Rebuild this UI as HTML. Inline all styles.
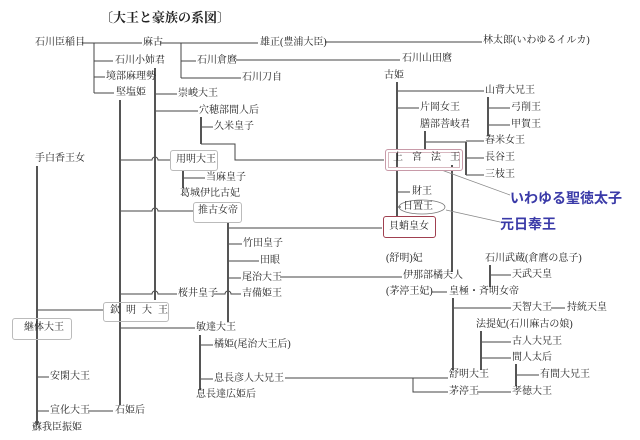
<!DOCTYPE html>
<html><head><meta charset="utf-8"><style>
html,body{margin:0;padding:0;background:#fff;}
#c{position:relative;width:640px;height:440px;overflow:hidden;background:#fff;font-family:"Liberation Serif","Noto Serif CJK SC",serif;color:#222;}
.t{position:absolute;font-size:10px;line-height:12px;white-space:nowrap;}
svg{position:absolute;left:0;top:0;}
.b{position:absolute;border:1px solid #bbb;border-radius:3px;}
</style></head><body><div id="c">
<svg width="640" height="440" fill="none">
<g stroke="#444" stroke-width="1">
<path d="M82 43H142M94 43V93M94 61H113M94 77H105M94 93H114"/>
<path d="M160 43H258M181 43V78M181 61H196M181 78H241"/>
<path d="M325 42H482M236 60H400"/>
<path d="M155 94H177M155 111H198"/>
<path d="M120 160H152a3 3 0 0 1 6 0H170M120 211H152a3 3 0 0 1 6 0H193M120 294H152a3 3 0 0 1 6 0H177M120 328H195"/>
<path d="M201 127H213M201 144H235V160H384"/>
<path d="M183 178H205"/>
<path d="M228 228H382M228 244H242M228 261H259M228 278H241M214 294H225a3 3 0 0 1 6 0H241"/>
<path d="M280 277H402"/>
<path d="M200 345H213M200 379H213M285 378H448"/>
<path d="M37 310H103M37 377H49M37 411H49M88 411H113"/>
<path d="M397 91H484M397 108H419M425 142H466M466 141H484M466 158H484M466 175H484"/>
<path d="M488 108H510M488 125H510"/>
<path d="M397 192H410M397 207H401"/>
<path d="M453 308H511M551 308H565M490 275H511M481 342H511M481 358H511M516 375H539"/>
<path d="M413 378V392H448M477 392H511M432 292H447"/>
</g>
<g stroke="#555" stroke-width="2">
<path d="M155 68V300M120 100V405M201 117V144M183 170V188M228 222V322M200 335V390M37 166V425M397 82V216M425 131V152M466 142V175M488 97V136M452 165V272M453 298V370M490 265V287M481 331V370M516 364V386"/>
</g>
<g stroke="#888" stroke-width="0.8">
<path d="M436 168L510 195M446 210L500 222"/>
</g>
<ellipse cx="422" cy="207" rx="23" ry="7" stroke="#777" stroke-width="0.8"/>
</svg>
<div class="b" style="left:170px;top:150px;width:46px;height:19px"></div>
<div class="b" style="left:193px;top:202px;width:47px;height:19px"></div>
<div class="b" style="left:103px;top:302px;width:64px;height:18px"></div>
<div class="b" style="left:12px;top:318px;width:58px;height:20px"></div>
<div class="b" style="left:385px;top:149px;width:76px;height:20px;border:1px solid #c89aa8;box-shadow:inset 0 0 0 2px #fff,inset 0 0 0 3px #d8b8c0"></div>
<div class="b" style="left:383px;top:216px;width:51px;height:20px;border:1px solid #a04050"></div>
<div class="t" style="left:100px;top:10px;font-size:13px;line-height:15px;font-weight:bold">〔大王と豪族の系図〕</div>
<div class="t" style="left:35px;top:37px">石川臣稲目</div>
<div class="t" style="left:143px;top:37px">麻古</div>
<div class="t" style="left:260px;top:37px">雄正(豊浦大臣)</div>
<div class="t" style="left:483px;top:35px">林太郎(いわゆるイルカ)</div>
<div class="t" style="left:115px;top:55px">石川小姉君</div>
<div class="t" style="left:197px;top:55px">石川倉麿</div>
<div class="t" style="left:402px;top:53px">石川山田麿</div>
<div class="t" style="left:106px;top:71px">境部麻理勢</div>
<div class="t" style="left:242px;top:72px">石川刀自</div>
<div class="t" style="left:116px;top:87px">堅塩姫</div>
<div class="t" style="left:178px;top:88px">崇峻大王</div>
<div class="t" style="left:384px;top:70px">古姫</div>
<div class="t" style="left:199px;top:105px">穴穂部間人后</div>
<div class="t" style="left:214px;top:121px">久米皇子</div>
<div class="t" style="left:485px;top:85px">山背大兄王</div>
<div class="t" style="left:420px;top:102px">片岡女王</div>
<div class="t" style="left:511px;top:102px">弓削王</div>
<div class="t" style="left:420px;top:119px">膳部菩岐君</div>
<div class="t" style="left:511px;top:119px">甲賀王</div>
<div class="t" style="left:485px;top:135px">舂米女王</div>
<div class="t" style="left:35px;top:153px">手白香王女</div>
<div class="t" style="left:176px;top:154px">用明大王</div>
<div class="t" style="left:393px;top:152px;letter-spacing:9px">上宮法王</div>
<div class="t" style="left:485px;top:152px">長谷王</div>
<div class="t" style="left:206px;top:172px">当麻皇子</div>
<div class="t" style="left:485px;top:169px">三枝王</div>
<div class="t" style="left:180px;top:188px">葛城伊比古妃</div>
<div class="t" style="left:412px;top:186px">財王</div>
<div class="t" style="left:510px;top:190px;font-size:14px;line-height:17px;font-weight:bold;color:#3a3aa8;font-family:'Liberation Sans','Noto Sans CJK JP',sans-serif">いわゆる聖徳太子</div>
<div class="t" style="left:403px;top:201px">日置王</div>
<div class="t" style="left:500px;top:216px;font-size:14px;line-height:17px;font-weight:bold;color:#3a3aa8;font-family:'Liberation Sans','Noto Sans CJK JP',sans-serif">元日奉王</div>
<div class="t" style="left:198px;top:205px">推古女帝</div>
<div class="t" style="left:389px;top:221px">貝蛸皇女</div>
<div class="t" style="left:243px;top:238px">竹田皇子</div>
<div class="t" style="left:260px;top:255px">田眼</div>
<div class="t" style="left:242px;top:272px">尾治大王</div>
<div class="t" style="left:242px;top:288px">吉備姫王</div>
<div class="t" style="left:178px;top:288px">桜井皇子</div>
<div class="t" style="left:386px;top:253px">(舒明)妃</div>
<div class="t" style="left:403px;top:270px">伊那部橘夫人</div>
<div class="t" style="left:485px;top:253px">石川武蔵(倉麿の息子)</div>
<div class="t" style="left:512px;top:269px">天武天皇</div>
<div class="t" style="left:386px;top:286px">(茅渟王妃)</div>
<div class="t" style="left:449px;top:286px">皇極・斉明女帝</div>
<div class="t" style="left:110px;top:305px;letter-spacing:6px">欽明大王</div>
<div class="t" style="left:24px;top:322px">継体大王</div>
<div class="t" style="left:512px;top:302px">天智大王</div>
<div class="t" style="left:567px;top:302px">持統天皇</div>
<div class="t" style="left:196px;top:322px">敏達大王</div>
<div class="t" style="left:476px;top:319px">法提妃(石川麻古の娘)</div>
<div class="t" style="left:214px;top:339px">橘姫(尾治大王后)</div>
<div class="t" style="left:512px;top:336px">古人大兄王</div>
<div class="t" style="left:512px;top:352px">間人太后</div>
<div class="t" style="left:50px;top:371px">安閑大王</div>
<div class="t" style="left:214px;top:373px">息長彦人大兄王</div>
<div class="t" style="left:540px;top:369px">有間大兄王</div>
<div class="t" style="left:449px;top:369px">舒明大王</div>
<div class="t" style="left:196px;top:389px">息長達広姫后</div>
<div class="t" style="left:449px;top:386px">茅渟王</div>
<div class="t" style="left:512px;top:386px">孝徳大王</div>
<div class="t" style="left:50px;top:405px">宣化大王</div>
<div class="t" style="left:115px;top:405px">石姫后</div>
<div class="t" style="left:32px;top:422px">蘇我臣振姫</div>
</div></body></html>
